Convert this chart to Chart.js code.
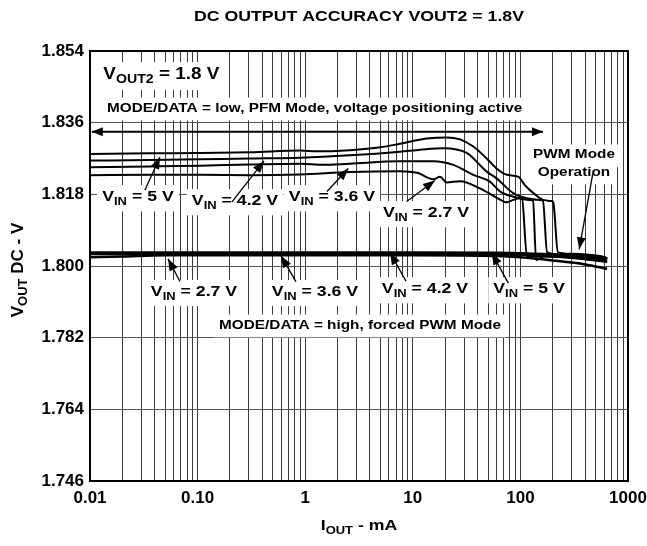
<!DOCTYPE html>
<html>
<head>
<meta charset="utf-8">
<title>DC Output Accuracy VOUT2 = 1.8V</title>
<script src="https://cdn.jsdelivr.net/npm/chart.js@4.4.1/dist/chart.umd.min.js"></script>
<style>
  html, body { margin: 0; padding: 0; background: #fff; }
  #wrap { width: 647px; height: 546px; }
</style>
</head>
<body>
<div id="wrap"><canvas id="chart" width="647" height="546"></canvas></div>
<script>
// axis ticks
const xDecades = [0.01, 0.1, 1, 10, 100, 1000];
const xTickLabels = ['0.01', '0.10', '1', '10', '100', '1000'];
const yTicks = [1.746, 1.764, 1.782, 1.800, 1.818, 1.836, 1.854];

// MODE/DATA = low, PFM mode (I in mA, V in volts)
const pfm5I = [0.01, 0.036, 0.105, 0.31, 0.9, 1.28, 2.6, 5, 7.6, 13.5, 20.6, 27.5, 36.5, 48.6, 60, 75, 96, 110, 132, 163, 195, 202, 223, 290, 550, 640];
const pfm5V = [1.8281, 1.8283, 1.8284, 1.8286, 1.8290, 1.8288, 1.8291, 1.8298, 1.8307, 1.8320, 1.8323, 1.8318, 1.8300, 1.8270, 1.8245, 1.8229, 1.8224, 1.8203, 1.8183, 1.8166, 1.8163, 1.8160, 1.8035, 1.8031, 1.8025, 1.8020];

const pfm42I = [0.01, 0.036, 0.105, 0.31, 0.9, 2.6, 7.6, 11.7, 19.2, 31.7, 48.6, 60, 86, 115, 152, 162, 177, 233, 550, 640];
const pfm42V = [1.8265, 1.8266, 1.8268, 1.8270, 1.8272, 1.8278, 1.8287, 1.8292, 1.8296, 1.8284, 1.8237, 1.8220, 1.8183, 1.8170, 1.8166, 1.8164, 1.8035, 1.8029, 1.8024, 1.8019];

const pfm36I = [0.01, 0.036, 0.105, 0.31, 0.9, 1.46, 2.6, 7.6, 15.5, 23.8, 36.5, 52, 65, 86, 123, 131, 140, 169, 550, 640];
const pfm36V = [1.8248, 1.8250, 1.8252, 1.8255, 1.8257, 1.8254, 1.8257, 1.8263, 1.8263, 1.8254, 1.8229, 1.8212, 1.8187, 1.8174, 1.8166, 1.8164, 1.8015, 1.8026, 1.8023, 1.8018];

const pfm27I = [0.01, 0.036, 0.105, 0.31, 0.9, 2.6, 7.6, 11, 15.5, 17.9, 20.6, 27.5, 42, 60, 75, 86, 99, 103.5, 115, 233, 444, 640];
const pfm27V = [1.8228, 1.8229, 1.8229, 1.8228, 1.8230, 1.8236, 1.8238, 1.8234, 1.8218, 1.8224, 1.8210, 1.8213, 1.8195, 1.8172, 1.8160, 1.8166, 1.8170, 1.8169, 1.8025, 1.8023, 1.8015, 1.8010];

// MODE/DATA = high, forced PWM mode
const pwmI = [0.01, 0.02, 0.05, 0.1, 1, 10, 60, 100, 200, 400, 640];
const pwm5V = [1.8034, 1.8034, 1.8034, 1.8034, 1.8034, 1.8034, 1.8033, 1.8032, 1.8029, 1.8025, 1.8019];
const pwm42V = [1.8032, 1.8032, 1.8032, 1.8032, 1.8032, 1.8032, 1.8031, 1.8030, 1.8027, 1.8022, 1.8016];
const pwm36V = [1.8030, 1.8030, 1.8030, 1.8030, 1.8030, 1.8030, 1.8029, 1.8028, 1.8024, 1.8018, 1.8012];
const pwm27V = [1.8022, 1.8024, 1.8027, 1.8027, 1.8027, 1.8027, 1.8025, 1.8022, 1.8014, 1.8004, 1.7993];

const FONT = '"Liberation Sans", Arial, Helvetica, sans-serif';
const STRETCH = 1.18;

const toXY = (xs, ys) => xs.map((x, i) => ({ x: x, y: ys[i] }));

// gridlines at 1..9 of every decade
const gridTicks = [];
for (let d = 0; d < xDecades.length - 1; d++) {
    gridTicks.push(xDecades[d]);
    for (let k = 2; k <= 9; k++) gridTicks.push(+(xDecades[d] * k).toPrecision(6));
}
gridTicks.push(xDecades[xDecades.length - 1]);

const vin = v => [['V'], ['IN', 1], [' = ' + v]];

// text notes and pointer arrows, placed in data units
const notes = [
    { parts: [['V'], ['OUT2', 1], [' = 1.8 V']], at: [0.0133, 1.8480], size: 16, align: 'left' },
    { parts: [['MODE/DATA = low, PFM Mode, voltage positioning active']], at: [0.0144, 1.8397], size: 13, align: 'left' },
    { parts: vin('5 V'), at: [0.0279, 1.8173], size: 15, from: [0.0324, 1.8191], to: [0.0447, 1.8274] },
    { parts: vin('4.2 V'), at: [0.2227, 1.8163], size: 15, from: [0.2088, 1.8161], to: [0.414, 1.8264] },
    { parts: vin('3.6 V'), at: [1.775, 1.8173], size: 15, from: [1.594, 1.8187], to: [2.516, 1.8245] },
    { parts: vin('2.7 V'), at: [13.27, 1.8133], size: 15, from: [8.77, 1.8162], to: [16.07, 1.8215] },
    { parts: [['PWM Mode']], at: [315, 1.8279], size: 13 },
    { parts: [['Operation']], at: [315, 1.8236], size: 13, from: [470, 1.8231], to: [352, 1.8042] },
    { parts: vin('2.7 V'), at: [0.0926, 1.7935], size: 15, from: [0.0686, 1.7961], to: [0.0531, 1.8018] },
    { parts: vin('3.6 V'), at: [1.233, 1.7935], size: 15, from: [0.8214, 1.7960], to: [0.5957, 1.8026] },
    { parts: vin('4.2 V'), at: [12.98, 1.7942], size: 15, from: [8.645, 1.7962], to: [6.14, 1.8034] },
    { parts: vin('5 V'), at: [120.2, 1.7942], size: 15, from: [77.2, 1.7957], to: [54.1, 1.8033] },
    { parts: [['MODE/DATA = high, forced PWM Mode']], at: [3.23, 1.7852], size: 13 }
];
const spanArrow = { from: [0.0104, 1.8337], to: [162, 1.8337] };

function partFont(size, sub) {
    return 'bold ' + (sub ? Math.round(size * 0.75) : size) + 'px ' + FONT;
}

function partsWidth(ctx, parts, size) {
    let w = 0;
    parts.forEach(p => {
        ctx.font = partFont(size, p[1]);
        w += ctx.measureText(p[0]).width;
    });
    return w;
}

function drawRich(ctx, parts, x, y, size, align, stretch, angle) {
    const w = partsWidth(ctx, parts, size);
    ctx.save();
    ctx.translate(x, y);
    if (angle) ctx.rotate(angle);
    ctx.scale(stretch, 1);
    let cx = align === 'left' ? 0 : -w / 2;
    ctx.fillStyle = '#000';
    ctx.textAlign = 'left';
    ctx.textBaseline = 'middle';
    parts.forEach(p => {
        ctx.font = partFont(size, p[1]);
        ctx.fillText(p[0], cx, p[1] ? size * 0.32 : 0);
        cx += ctx.measureText(p[0]).width;
    });
    ctx.restore();
}

function arrowHead(ctx, x1, y1, x2, y2, len, half) {
    const a = Math.atan2(y2 - y1, x2 - x1);
    const c = Math.cos(a), s = Math.sin(a);
    ctx.beginPath();
    ctx.moveTo(x2, y2);
    ctx.lineTo(x2 - len * c + half * s, y2 - len * s - half * c);
    ctx.lineTo(x2 - len * c - half * s, y2 - len * s + half * c);
    ctx.closePath();
    ctx.fill();
}

function arrow(ctx, p1, p2, width, len, half) {
    ctx.lineWidth = width;
    ctx.beginPath();
    ctx.moveTo(p1[0], p1[1]);
    ctx.lineTo(p2[0], p2[1]);
    ctx.stroke();
    arrowHead(ctx, p1[0], p1[1], p2[0], p2[1], len, half);
}

const annotations = {
    id: 'annotations',
    beforeDatasetsDraw(chart) {
        const { ctx, scales: { x, y } } = chart;
        ctx.save();
        ctx.fillStyle = '#fff';
        notes.forEach(n => {
            const px = x.getPixelForValue(n.at[0]);
            const py = y.getPixelForValue(n.at[1]);
            const w = partsWidth(ctx, n.parts, n.size) * STRETCH;
            const left = n.align === 'left' ? px : px - w / 2;
            ctx.fillRect(left - 5, py - n.size * 0.8, w + 10, n.size * 1.75);
        });
        ctx.restore();
    },
    afterDatasetsDraw(chart) {
        const { ctx, scales: { x, y } } = chart;
        const pt = a => [x.getPixelForValue(a[0]), y.getPixelForValue(a[1])];
        ctx.save();
        ctx.strokeStyle = '#000';
        ctx.fillStyle = '#000';
        notes.forEach(n => {
            const p = pt(n.at);
            drawRich(ctx, n.parts, p[0], p[1], n.size, n.align, STRETCH, 0);
            if (n.from) arrow(ctx, pt(n.from), pt(n.to), 1.3, 12, 4.5);
        });
        const a = pt(spanArrow.from), b = pt(spanArrow.to);
        arrow(ctx, a, b, 2, 11, 4.5);
        arrowHead(ctx, b[0], b[1], a[0], a[1], 11, 4.5);
        ctx.restore();
    },
    afterDraw(chart) {
        const { ctx, chartArea: ca } = chart;
        ctx.save();
        ctx.strokeStyle = '#000';
        ctx.lineWidth = 2;
        ctx.strokeRect(ca.left, ca.top, ca.right - ca.left, ca.bottom - ca.top);
        const mid = (ca.left + ca.right) / 2;
        drawRich(ctx, [['DC OUTPUT ACCURACY VOUT2 = 1.8V']], mid, 17, 15, 'center', STRETCH, 0);
        drawRich(ctx, [['I'], ['OUT', 1], [' - mA']], mid, 526, 15, 'center', STRETCH, 0);
        drawRich(ctx, [['V'], ['OUT', 1], [' DC - V']], 18, (ca.top + ca.bottom) / 2 + 4, 17, 'center', 1, -Math.PI / 2);
        ctx.restore();
    }
};

const pfmStyle = { borderColor: '#000', borderWidth: 2, pointRadius: 0, cubicInterpolationMode: 'monotone' };
const pwmStyle = { borderColor: '#000', borderWidth: 2.5, pointRadius: 0, cubicInterpolationMode: 'monotone' };

new Chart(document.getElementById('chart'), {
    type: 'line',
    data: {
        datasets: [
            { label: 'PFM VIN = 5 V', data: toXY(pfm5I, pfm5V), ...pfmStyle },
            { label: 'PFM VIN = 4.2 V', data: toXY(pfm42I, pfm42V), ...pfmStyle },
            { label: 'PFM VIN = 3.6 V', data: toXY(pfm36I, pfm36V), ...pfmStyle },
            { label: 'PFM VIN = 2.7 V', data: toXY(pfm27I, pfm27V), ...pfmStyle },
            { label: 'PWM VIN = 5 V', data: toXY(pwmI, pwm5V), ...pwmStyle },
            { label: 'PWM VIN = 4.2 V', data: toXY(pwmI, pwm42V), ...pwmStyle },
            { label: 'PWM VIN = 3.6 V', data: toXY(pwmI, pwm36V), ...pwmStyle },
            { label: 'PWM VIN = 2.7 V', data: toXY(pwmI, pwm27V), ...pwmStyle }
        ]
    },
    options: {
        responsive: false,
        animation: false,
        devicePixelRatio: 1,
        layout: { padding: { top: 51, right: 19, left: 0, bottom: 0 } },
        plugins: {
            legend: { display: false },
            tooltip: { enabled: false },
            title: { display: false }
        },
        scales: {
            x: {
                type: 'logarithmic',
                min: 0.01,
                max: 1000,
                afterBuildTicks: s => { s.ticks = gridTicks.map(v => ({ value: v })); },
                afterFit: s => { s.height = 65; s.paddingLeft = 0; s.paddingRight = 0; },
                border: { display: false },
                grid: { color: '#3a3a3a', lineWidth: 1, drawTicks: false },
                ticks: {
                    autoSkip: false,
                    maxRotation: 0,
                    padding: 7,
                    color: '#000',
                    font: { family: FONT, size: 17, weight: 'bold' },
                    callback: v => {
                        const i = xDecades.indexOf(v);
                        return i >= 0 ? xTickLabels[i] : '';
                    }
                }
            },
            y: {
                min: 1.746,
                max: 1.854,
                afterBuildTicks: s => { s.ticks = yTicks.map(v => ({ value: v })); },
                afterFit: s => { s.width = 90; s.paddingTop = 0; s.paddingBottom = 0; },
                border: { display: false },
                grid: { color: '#555', lineWidth: 1, drawTicks: false },
                ticks: {
                    padding: 6,
                    color: '#000',
                    font: { family: FONT, size: 17, weight: 'bold' },
                    callback: v => v.toFixed(3)
                }
            }
        }
    },
    plugins: [annotations]
});
</script>
</body>
</html>
